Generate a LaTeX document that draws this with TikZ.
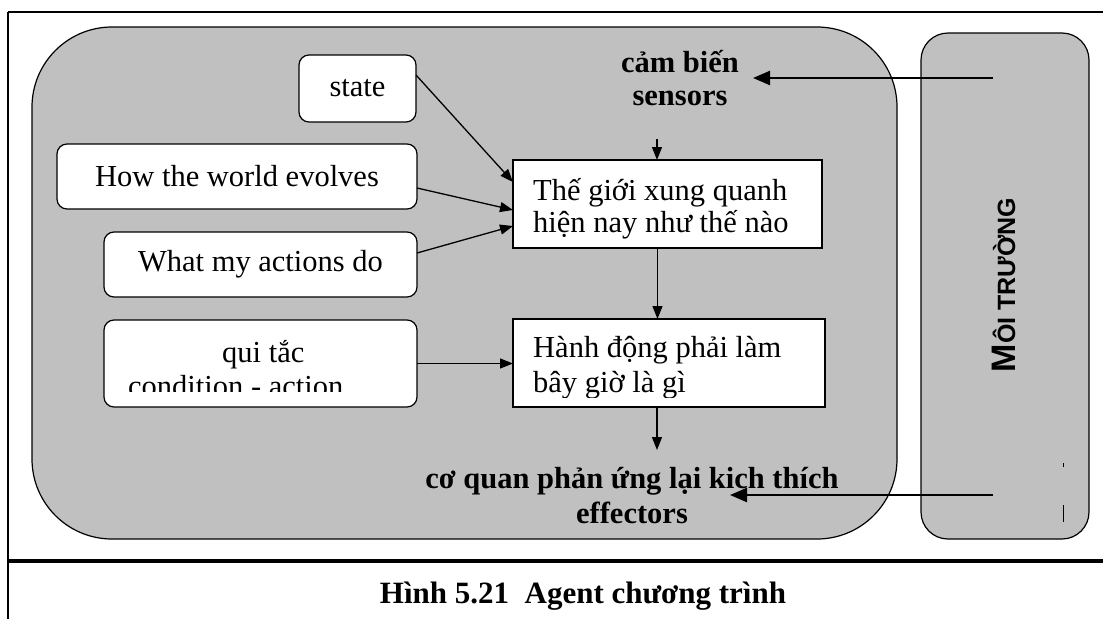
\documentclass[tikz,border=0pt]{standalone}
\usepackage{fontspec}
\setmainfont{Liberation Serif}
\newfontfamily\envfont{Liberation Sans}
\usetikzlibrary{arrows.meta, positioning}

\definecolor{panelgray}{HTML}{C0C0C0}

\begin{document}
\begin{tikzpicture}[
    x=1pt, y=-1pt,
    panel/.style={draw, fill=panelgray, line width=1.2pt, inner sep=0pt, outer sep=0pt},
    box/.style={draw, fill=white, line width=1.2pt, inner sep=0pt, outer sep=0pt, font=\fontsize{30.5}{33}\selectfont},
    roundbox/.style={box, rounded corners=10pt},
    txt/.style={inner sep=0pt, align=left, font=\fontsize{30.5}{33}\selectfont},
    boldlabel/.style={inner sep=0pt, align=center, font=\fontsize{30.5}{33}\selectfont\bfseries},
    arrow/.style={-{Triangle[length=13pt, width=10pt]}, line width=1.3pt},
    bigarrow/.style={-{Triangle[length=17pt, width=14pt]}, line width=2.2pt},
]
    \useasboundingbox (0,0) rectangle (1103,619);
    % frame
    \draw[line width=2pt] (8,12) -- (1103,12);
    \draw[line width=1.5pt] (8,12) -- (8,619);
    \draw[line width=3.5pt] (8,561) -- (1103,561);

    % agent and environment
    \node[panel, rounded corners=80pt, minimum width=865pt, minimum height=512pt] (agent) at (464.5,283) {};
    \node[panel, rounded corners=27pt, minimum width=168pt, minimum height=506pt] (env) at (1005,286) {};
    \node[rotate=90, anchor=base, inner sep=0pt, font=\envfont\bfseries] (envtext) at (1015,285)
        {{\fontsize{34}{34}\selectfont M}{\fontsize{25}{25}\selectfont ÔI TRƯỜNG}};
    \draw[line width=0.8pt] (1063,463) -- (1063,467);
    \draw[line width=0.8pt] (1063,505) -- (1063,522);

    % knowledge boxes
    \node[roundbox, minimum width=117pt, minimum height=67pt] (state) at (357.5,88.5) {state};
    \node[roundbox, minimum width=360pt, minimum height=65pt] (evolves) at (237,176.5) {How the world evolves};
    \node[roundbox, minimum width=313pt, minimum height=65pt] (actions) at (260.5,264.5) {What my actions do};
    \node[roundbox, minimum width=313pt, minimum height=87pt] (rules) at (260.5,363.5) {};
    \begin{scope}
        \clip (rules.north west) rectangle ([yshift=15.5pt]rules.south east);
        \node[txt, anchor=base west, font=\fontsize{30.5}{34}\selectfont] (rulestext) at (128,396)
            {\hspace*{94pt}qui tắc\\condition - action};
    \end{scope}

    % world and action boxes
    \node[box, minimum width=309pt, minimum height=88pt] (world) at (667.5,204) {};
    \begin{scope}
        \clip (world.north west) rectangle ([yshift=6pt]world.south east);
        \node[txt, anchor=base west, font=\fontsize{30.5}{32}\selectfont] (worldtext) at (533,232)
            {Thế giới xung quanh\\hiện nay như thế nào};
    \end{scope}
    \node[box, minimum width=312pt, minimum height=88pt] (act) at (669,363) {};
    \begin{scope}
        \clip (act.north west) rectangle ([yshift=10pt]act.south east);
        \node[txt, anchor=base west, font=\fontsize{30.5}{35}\selectfont] (acttext) at (533,392)
            {Hành động phải làm\\bây giờ là gì};
    \end{scope}

    % sensors and effectors
    \node[boldlabel, anchor=base] (sense) at (680,105) {cảm biến\\sensors};
    \node[boldlabel, anchor=base, font=\fontsize{30.5}{35}\selectfont\bfseries] (effect) at (632,523)
        {cơ quan phản ứng lại kich thích\\effectors};
    \coordinate (sensein) at (753,78);
    \coordinate (effin) at (730,495);

    \draw[arrow] ([yshift=13.5pt]state.east) -- ([yshift=22pt]world.west);
    \draw[arrow] ([yshift=-11.5pt]evolves.east) -- ([yshift=-6pt]world.west);
    \draw[arrow] ([yshift=11.5pt]actions.east) -- ([yshift=-22pt]world.west);
    \draw[arrow, shorten <=33pt] ([xshift=-23pt]sense.south) -- ([xshift=-23pt]sense.south |- world.north);
    \draw[arrow] ([xshift=-10pt]world.south) -- ([xshift=-10pt]world.south |- act.north);
    \draw[arrow] (rules.east) -- (rules.east -| act.west);
    \draw[arrow] ([xshift=-12pt]act.south) -- ([xshift=-12pt,yshift=-43pt]act.south);
    \draw[bigarrow] ([xshift=-12pt]env.center |- sensein) -- (sensein);
    \draw[bigarrow] ([xshift=-12pt]env.center |- effin) -- (effin);

    % caption
    \node[anchor=base, inner sep=0pt, font=\fontsize{31}{31}\selectfont\bfseries] (caption) at (583,603)
        {Hình 5.21\ \ Agent chương trình};
\end{tikzpicture}
\end{document}
